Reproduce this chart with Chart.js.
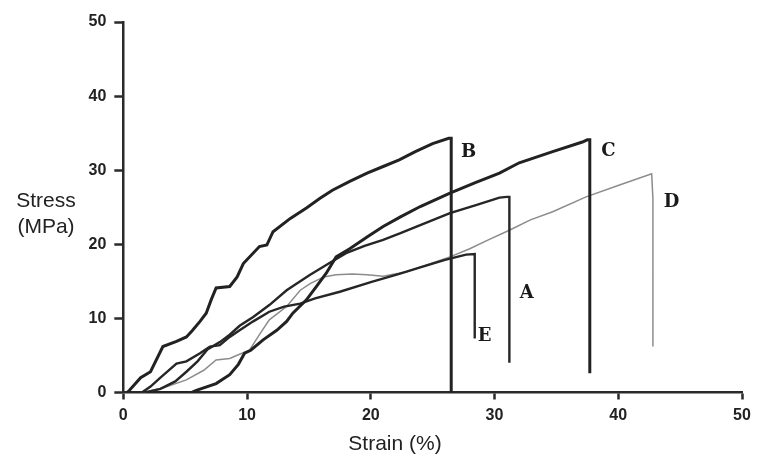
<!DOCTYPE html>
<html>
<head>
<meta charset="utf-8">
<script src="https://cdn.jsdelivr.net/npm/chart.js@4.4.0/dist/chart.umd.min.js"></script>
<style>
  html, body { margin: 0; padding: 0; background: #fff; }
  #wrap { width: 762px; height: 469px; }
</style>
</head>
<body>
<div id="wrap"><canvas id="stressChart" width="762" height="469"></canvas></div>
<script>
// tick values for both axes
const tickValues = [0, 10, 20, 30, 40, 50];

// curve B
const strainB = [0.3, 0.5, 1.4, 2.2, 3.2, 4.3, 5.1, 5.6, 6.2, 6.7, 7.1, 7.5, 8.6, 9.2, 9.7, 11.0, 11.6, 12.1, 13.5, 14.8, 15.9, 16.9, 18.3, 19.7, 21.0, 22.3, 23.6, 25.0, 26.3, 26.5, 26.5];
const stressB = [0, 0.3, 2.0, 2.8, 6.2, 6.9, 7.5, 8.4, 9.6, 10.7, 12.5, 14.1, 14.3, 15.6, 17.4, 19.7, 19.9, 21.7, 23.5, 24.9, 26.2, 27.3, 28.5, 29.6, 30.5, 31.4, 32.5, 33.6, 34.3, 34.3, 0];

// curve C
const strainC = [1.5, 3.0, 5.5, 5.9, 7.5, 8.6, 9.3, 9.8, 10.3, 11.3, 12.4, 13.2, 13.7, 14.8, 15.6, 16.4, 17.2, 18.3, 19.7, 21.0, 22.4, 24.0, 26.4, 28.4, 30.4, 32.0, 34.7, 37.1, 37.5, 37.7, 37.7];
const stressC = [0, 0, 0, 0.3, 1.2, 2.4, 3.8, 5.3, 5.7, 7.1, 8.4, 9.6, 10.7, 12.5, 14.3, 16.1, 18.3, 19.4, 21.0, 22.4, 23.7, 25.1, 26.9, 28.3, 29.6, 31.0, 32.5, 33.8, 34.1, 34.1, 2.6];

// curve A
const strainA = [1.8, 3.0, 4.2, 5.1, 6.0, 6.8, 7.8, 8.6, 9.4, 10.5, 11.8, 13.2, 14.3, 15.1, 16.5, 18.0, 19.5, 21.0, 22.4, 24.0, 26.4, 28.5, 30.4, 31.0, 31.2, 31.2];
const stressA = [0, 0.5, 1.5, 2.8, 4.2, 5.8, 6.8, 7.8, 9.0, 10.2, 11.8, 13.8, 15.0, 15.9, 17.3, 18.8, 19.8, 20.6, 21.5, 22.6, 24.2, 25.3, 26.3, 26.4, 26.4, 4.0];

// curve E
const strainE = [1.5, 2.2, 3.0, 4.3, 5.1, 6.2, 7.0, 7.8, 8.6, 9.4, 10.5, 11.8, 13.0, 14.3, 15.5, 17.5, 20.0, 22.3, 24.0, 26.0, 27.7, 28.4, 28.4];
const stressE = [0, 0.8, 2.0, 3.9, 4.2, 5.3, 6.2, 6.4, 7.5, 8.4, 9.6, 10.9, 11.6, 12.0, 12.7, 13.6, 14.9, 16.0, 16.9, 17.9, 18.6, 18.7, 7.3];

// curve D (grey)
const strainD = [1.5, 3.2, 5.1, 6.5, 7.5, 8.6, 9.3, 10.2, 11.0, 11.8, 13.2, 14.3, 15.1, 16.2, 17.2, 18.5, 19.7, 21.0, 22.9, 24.5, 26.4, 28.0, 29.5, 31.2, 32.9, 34.7, 37.4, 40.1, 42.7, 42.8, 42.8];
const stressD = [0, 0.6, 1.7, 3.0, 4.4, 4.6, 5.1, 5.7, 7.8, 9.8, 11.6, 13.8, 14.7, 15.6, 15.9, 16.0, 15.9, 15.7, 16.3, 17.2, 18.3, 19.4, 20.6, 21.9, 23.3, 24.4, 26.4, 28.0, 29.5, 26.2, 6.2];

// curve letters and where they sit (data units)
const curveNames = ["B", "C", "D", "A", "E"];
const nameStrain = [27.9, 39.2, 44.3, 32.6, 29.2];
const nameStress = [32.4, 32.5, 25.7, 13.4, 7.6];

const toPoints = (xs, ys) => xs.map((x, i) => ({ x: x, y: ys[i] }));

const axisColor = "#2a2a2a";
const tickFont = { family: "Liberation Sans", size: 16, weight: "bold" };

// draws the A-E letters and the two axis titles
const textPlugin = {
  id: "curveText",
  afterDatasetsDraw(chart) {
    const ctx = chart.ctx;
    const xs = chart.scales.x;
    const ys = chart.scales.y;
    ctx.save();
    ctx.fillStyle = "#1a1a1a";
    ctx.textAlign = "center";
    ctx.textBaseline = "middle";
    ctx.font = "bold 18px 'DejaVu Serif'";
    curveNames.forEach((n, i) => {
      ctx.fillText(n, xs.getPixelForValue(nameStrain[i]), ys.getPixelForValue(nameStress[i]));
    });
    ctx.font = "21px 'Liberation Sans'";
    ctx.fillStyle = "#222";
    ctx.fillText("Stress", 46, 201);
    ctx.fillText("(MPa)", 46, 227);
    ctx.fillText("Strain (%)", 395, 444);
    ctx.restore();
  }
};

const ctx = document.getElementById("stressChart").getContext("2d");

new Chart(ctx, {
  type: "line",
  data: {
    datasets: [
      { label: "B", data: toPoints(strainB, stressB), borderColor: "#222", borderWidth: 3 },
      { label: "C", data: toPoints(strainC, stressC), borderColor: "#222", borderWidth: 3 },
      { label: "A", data: toPoints(strainA, stressA), borderColor: "#262626", borderWidth: 2.4 },
      { label: "E", data: toPoints(strainE, stressE), borderColor: "#262626", borderWidth: 2.4 },
      { label: "D", data: toPoints(strainD, stressD), borderColor: "#8c8c8c", borderWidth: 1.5 }
    ]
  },
  options: {
    responsive: false,
    animation: false,
    events: [],
    elements: {
      point: { radius: 0 },
      line: { tension: 0, fill: false }
    },
    layout: { padding: { top: 22, right: 20, left: 0, bottom: 0 } },
    plugins: {
      legend: { display: false },
      tooltip: { enabled: false }
    },
    scales: {
      x: {
        type: "linear",
        min: 0,
        max: 50,
        afterBuildTicks: (s) => { s.ticks = tickValues.map(v => ({ value: v })); },
        afterFit: (s) => { s.height = 76.5; },
        border: { display: true, color: axisColor, width: 2.5 },
        grid: { drawOnChartArea: false, drawTicks: true, tickLength: 7, tickWidth: 2.5, tickColor: axisColor },
        ticks: { color: "#222", font: tickFont, padding: 6, maxRotation: 0 }
      },
      y: {
        type: "linear",
        min: 0,
        max: 50,
        afterBuildTicks: (s) => { s.ticks = tickValues.map(v => ({ value: v })); },
        afterFit: (s) => { s.width = 123.3; },
        border: { display: true, color: axisColor, width: 2.5 },
        grid: { drawOnChartArea: false, drawTicks: true, tickLength: 9, tickWidth: 2.5, tickColor: axisColor },
        ticks: { color: "#222", font: tickFont, padding: 8 }
      }
    }
  },
  plugins: [textPlugin]
});
</script>
</body>
</html>
